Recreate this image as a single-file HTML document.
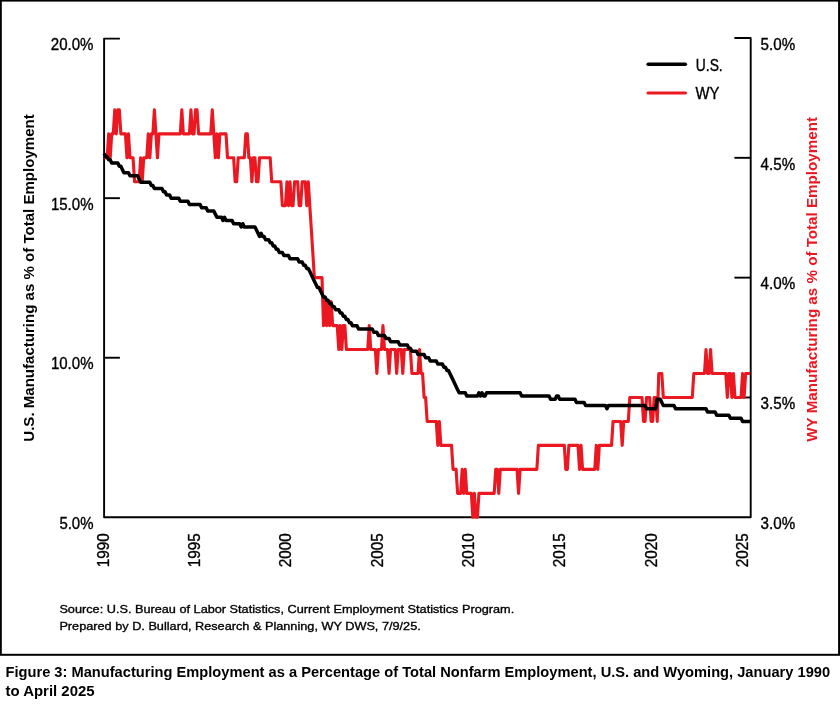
<!DOCTYPE html>
<html lang="en"><head><meta charset="utf-8"><title>Figure 3: Manufacturing Employment as a Percentage of Total Nonfarm Employment</title>
<style>
html,body{margin:0;padding:0;background:#fff;}
body{width:840px;height:706px;overflow:hidden;font-family:"Liberation Sans",sans-serif;}
svg text{font-family:"Liberation Sans",sans-serif;}
</style></head>
<body>
<svg width="840" height="706" viewBox="0 0 840 706" font-family="Liberation Sans, sans-serif" style="display:block;will-change:transform;transform:translateZ(0)">
<rect x="0.8" y="0.6" width="838.3" height="654.2" fill="#fff" stroke="#000000" stroke-width="2"/>
<path d="M119.89999999999999 38.6 L104.1 38.6 L104.1 517.3 L750.7 517.3 L750.7 38.0 L734.4000000000001 38.0" fill="none" stroke="#000000" stroke-width="1.9" stroke-linejoin="round"/>
<line x1="104.1" y1="198.17" x2="119.89999999999999" y2="198.17" stroke="#000000" stroke-width="1.9"/>
<line x1="104.1" y1="357.73" x2="119.89999999999999" y2="357.73" stroke="#000000" stroke-width="1.9"/>
<line x1="750.7" y1="157.82" x2="734.4000000000001" y2="157.82" stroke="#000000" stroke-width="1.9"/>
<line x1="750.7" y1="277.65" x2="734.4000000000001" y2="277.65" stroke="#000000" stroke-width="1.9"/>
<line x1="750.7" y1="397.47" x2="734.4000000000001" y2="397.47" stroke="#000000" stroke-width="1.9"/>
<path d="M104.10 157.82 L107.15 157.82 L108.67 133.86 L110.20 157.82 L111.72 133.86 L113.24 133.86 L114.77 109.89 L116.29 133.86 L117.81 109.89 L119.34 109.89 L120.86 133.86 L125.43 133.86 L126.96 157.82 L128.48 133.86 L130.00 157.82 L133.05 157.82 L134.58 181.79 L139.15 181.79 L140.67 157.82 L142.19 181.79 L143.72 157.82 L146.77 157.82 L148.29 133.86 L149.81 157.82 L151.34 133.86 L152.86 133.86 L154.39 109.89 L155.91 133.86 L157.43 157.82 L158.96 133.86 L180.29 133.86 L181.81 109.89 L183.34 133.86 L189.43 133.86 L190.96 109.89 L192.48 133.86 L194.00 133.86 L195.53 109.89 L197.05 109.89 L198.58 133.86 L210.77 133.86 L212.29 109.89 L213.81 133.86 L215.34 157.82 L216.86 133.86 L218.38 157.82 L219.91 133.86 L226.00 133.86 L227.53 157.82 L233.62 157.82 L235.15 181.79 L236.67 181.79 L238.19 157.82 L244.29 157.82 L245.81 133.86 L247.34 133.86 L248.86 157.82 L250.38 157.82 L251.91 181.79 L253.43 157.82 L254.96 157.82 L256.48 181.79 L258.00 181.79 L259.53 157.82 L270.19 157.82 L271.72 181.79 L280.86 181.79 L282.38 205.76 L285.43 205.76 L286.96 181.79 L288.48 205.76 L290.00 181.79 L291.53 205.76 L293.05 205.76 L294.57 181.79 L297.62 181.79 L299.15 205.76 L300.67 205.76 L302.19 181.79 L305.24 181.79 L306.77 205.76 L308.29 181.79 L309.81 205.76 L311.34 229.72 L312.86 253.69 L314.38 277.65 L322.00 277.65 L323.53 325.58 L325.05 301.62 L326.57 325.58 L328.10 301.62 L329.62 325.58 L331.15 301.62 L332.67 325.58 L337.24 325.58 L338.77 349.54 L340.29 325.58 L341.81 349.54 L343.34 325.58 L344.86 325.58 L346.38 349.54 L367.72 349.54 L369.24 325.58 L370.76 349.54 L375.34 349.54 L376.86 373.51 L378.38 349.54 L381.43 349.54 L382.96 325.58 L384.48 349.54 L387.53 349.54 L389.05 373.51 L390.57 349.54 L395.15 349.54 L396.67 373.51 L398.19 349.54 L401.24 349.54 L402.76 373.51 L404.29 349.54 L410.38 349.54 L411.91 373.51 L418.00 373.51 L419.53 349.54 L421.05 373.51 L422.57 373.51 L424.10 397.47 L425.62 397.47 L427.15 421.44 L436.29 421.44 L437.81 445.41 L439.34 421.44 L440.86 445.41 L451.53 445.41 L453.05 469.37 L456.10 469.37 L457.62 493.33 L460.67 493.33 L462.19 469.37 L463.72 493.33 L465.24 469.37 L466.76 493.33 L471.34 493.33 L472.86 517.30 L474.38 493.33 L475.91 517.30 L477.43 517.30 L478.95 493.33 L494.19 493.33 L495.72 469.37 L497.24 469.37 L498.76 493.33 L500.29 469.37 L517.05 469.37 L518.57 493.33 L520.10 469.37 L536.86 469.37 L538.38 445.41 L564.29 445.41 L565.81 469.37 L567.34 469.37 L568.86 445.41 L578.00 445.41 L579.53 469.37 L581.05 445.41 L582.57 469.37 L594.76 469.37 L596.29 445.41 L597.81 469.37 L599.34 445.41 L611.53 445.41 L613.05 421.44 L620.67 421.44 L622.19 445.41 L623.72 421.44 L628.29 421.44 L629.81 397.47 L642.00 397.47 L643.53 421.44 L645.05 421.44 L646.57 397.47 L649.62 397.47 L651.14 421.44 L652.67 421.44 L654.19 397.47 L655.72 397.47 L657.24 421.44 L658.76 373.51 L661.81 373.51 L663.33 397.47 L692.29 397.47 L693.81 373.51 L704.48 373.51 L706.00 349.54 L707.52 373.51 L709.05 373.51 L710.57 349.54 L712.10 373.51 L725.81 373.51 L727.33 397.47 L728.86 373.51 L730.38 373.51 L731.91 397.47 L733.43 373.51 L734.95 397.47 L741.05 397.47 L742.57 373.51 L744.10 397.47 L745.62 373.51 L750.19 373.51" fill="none" stroke="#eb1821" stroke-width="3.1" stroke-linejoin="round" stroke-linecap="butt"/>
<path d="M104.10 153.49 L105.62 156.68 L107.15 156.68 L108.67 159.87 L110.20 159.87 L111.72 163.06 L117.81 163.06 L119.34 166.25 L120.86 166.25 L122.39 169.44 L123.91 172.64 L128.48 172.64 L130.00 175.83 L137.62 175.83 L139.15 179.02 L140.67 182.21 L149.81 182.21 L151.34 185.40 L152.86 185.40 L154.39 188.59 L162.00 188.59 L163.53 191.78 L165.05 191.78 L166.58 194.98 L169.62 194.98 L171.15 198.17 L178.77 198.17 L180.29 201.36 L187.91 201.36 L189.43 204.55 L200.10 204.55 L201.62 207.74 L206.19 207.74 L207.72 210.93 L213.81 210.93 L215.34 214.12 L216.86 217.31 L221.43 217.31 L222.96 220.51 L224.48 217.31 L226.00 220.51 L232.10 220.51 L233.62 223.70 L239.72 223.70 L241.24 226.89 L242.77 223.70 L244.29 226.89 L254.96 226.89 L256.48 230.08 L258.00 233.27 L259.53 236.46 L261.05 233.27 L262.58 236.46 L264.10 236.46 L265.62 239.65 L268.67 239.65 L270.19 242.85 L271.72 242.85 L273.24 246.04 L274.77 246.04 L276.29 249.23 L277.81 249.23 L279.34 252.42 L282.38 252.42 L283.91 255.61 L288.48 255.61 L290.00 258.80 L297.62 258.80 L299.15 261.99 L302.19 261.99 L303.72 265.18 L305.24 265.18 L306.77 268.38 L308.29 268.38 L309.81 271.57 L311.34 274.76 L312.86 277.95 L314.38 281.14 L315.91 284.33 L317.43 287.52 L318.96 287.52 L320.48 290.72 L322.00 293.91 L323.53 297.10 L325.05 297.10 L326.57 300.29 L328.10 300.29 L329.62 303.48 L331.15 303.48 L332.67 306.67 L334.19 306.67 L335.72 309.86 L338.77 309.86 L340.29 313.05 L341.81 313.05 L343.34 316.25 L344.86 316.25 L346.38 319.44 L347.91 319.44 L349.43 322.63 L350.96 322.63 L352.48 325.82 L357.05 325.82 L358.57 329.01 L372.29 329.01 L373.81 332.20 L376.86 332.20 L378.38 335.39 L384.48 335.39 L386.00 338.59 L389.05 338.59 L390.57 341.78 L398.19 341.78 L399.72 344.97 L407.34 344.97 L408.86 348.16 L410.38 348.16 L411.91 351.35 L416.48 351.35 L418.00 354.54 L424.10 354.54 L425.62 357.73 L428.67 357.73 L430.19 360.92 L436.29 360.92 L437.81 364.12 L442.38 364.12 L443.91 367.31 L445.43 367.31 L446.96 370.50 L448.48 370.50 L450.00 373.69 L451.53 376.88 L453.05 380.07 L454.57 383.26 L456.10 386.46 L457.62 389.65 L459.15 392.84 L465.24 392.84 L466.76 396.03 L477.43 396.03 L478.95 392.84 L480.48 396.03 L482.00 392.84 L483.53 396.03 L485.05 396.03 L486.57 392.84 L520.10 392.84 L521.62 396.03 L549.05 396.03 L550.57 399.22 L555.14 399.22 L556.67 396.03 L558.19 396.03 L559.72 399.22 L574.95 399.22 L576.48 402.41 L584.10 402.41 L585.62 405.60 L605.43 405.60 L606.95 408.79 L608.48 405.60 L645.05 405.60 L646.57 408.79 L655.72 408.79 L657.24 399.22 L660.29 399.22 L661.81 402.41 L663.33 405.60 L674.00 405.60 L675.53 408.79 L706.00 408.79 L707.52 411.99 L715.14 411.99 L716.67 415.18 L728.86 415.18 L730.38 418.37 L741.05 418.37 L742.57 421.56 L750.19 421.56" fill="none" stroke="#000000" stroke-width="3.5" stroke-linejoin="round" stroke-linecap="butt"/>
<text x="50.8" y="50.20" font-size="16.0" font-weight="400" fill="#000000" text-anchor="start" textLength="42.7" lengthAdjust="spacingAndGlyphs" stroke="#000000" stroke-width="0.35">20.0%</text>
<text x="50.9" y="209.77" font-size="16.0" font-weight="400" fill="#000000" text-anchor="start" textLength="42.6" lengthAdjust="spacingAndGlyphs" stroke="#000000" stroke-width="0.35">15.0%</text>
<text x="50.9" y="369.33" font-size="16.0" font-weight="400" fill="#000000" text-anchor="start" textLength="42.6" lengthAdjust="spacingAndGlyphs" stroke="#000000" stroke-width="0.35">10.0%</text>
<text x="59.4" y="528.90" font-size="16.0" font-weight="400" fill="#000000" text-anchor="start" textLength="34.1" lengthAdjust="spacingAndGlyphs" stroke="#000000" stroke-width="0.35">5.0%</text>
<text x="760.6" y="49.70" font-size="16.0" font-weight="400" fill="#000000" text-anchor="start" textLength="34.6" lengthAdjust="spacingAndGlyphs" stroke="#000000" stroke-width="0.35">5.0%</text>
<text x="760.6" y="169.52" font-size="16.0" font-weight="400" fill="#000000" text-anchor="start" textLength="34.6" lengthAdjust="spacingAndGlyphs" stroke="#000000" stroke-width="0.35">4.5%</text>
<text x="760.6" y="289.35" font-size="16.0" font-weight="400" fill="#000000" text-anchor="start" textLength="34.6" lengthAdjust="spacingAndGlyphs" stroke="#000000" stroke-width="0.35">4.0%</text>
<text x="760.6" y="409.17" font-size="16.0" font-weight="400" fill="#000000" text-anchor="start" textLength="34.6" lengthAdjust="spacingAndGlyphs" stroke="#000000" stroke-width="0.35">3.5%</text>
<text x="760.6" y="529.00" font-size="16.0" font-weight="400" fill="#000000" text-anchor="start" textLength="34.6" lengthAdjust="spacingAndGlyphs" stroke="#000000" stroke-width="0.35">3.0%</text>
<text x="108.70" y="567.2" font-size="16.0" font-weight="400" fill="#000000" text-anchor="start" textLength="34.0" lengthAdjust="spacingAndGlyphs" stroke="#000000" stroke-width="0.35" transform="rotate(-90 108.70 567.2)">1990</text>
<text x="200.03" y="567.2" font-size="16.0" font-weight="400" fill="#000000" text-anchor="start" textLength="34.0" lengthAdjust="spacingAndGlyphs" stroke="#000000" stroke-width="0.35" transform="rotate(-90 200.03 567.2)">1995</text>
<text x="291.36" y="567.2" font-size="16.0" font-weight="400" fill="#000000" text-anchor="start" textLength="34.0" lengthAdjust="spacingAndGlyphs" stroke="#000000" stroke-width="0.35" transform="rotate(-90 291.36 567.2)">2000</text>
<text x="382.69" y="567.2" font-size="16.0" font-weight="400" fill="#000000" text-anchor="start" textLength="34.0" lengthAdjust="spacingAndGlyphs" stroke="#000000" stroke-width="0.35" transform="rotate(-90 382.69 567.2)">2005</text>
<text x="474.02" y="567.2" font-size="16.0" font-weight="400" fill="#000000" text-anchor="start" textLength="34.0" lengthAdjust="spacingAndGlyphs" stroke="#000000" stroke-width="0.35" transform="rotate(-90 474.02 567.2)">2010</text>
<text x="565.35" y="567.2" font-size="16.0" font-weight="400" fill="#000000" text-anchor="start" textLength="34.0" lengthAdjust="spacingAndGlyphs" stroke="#000000" stroke-width="0.35" transform="rotate(-90 565.35 567.2)">2015</text>
<text x="656.68" y="567.2" font-size="16.0" font-weight="400" fill="#000000" text-anchor="start" textLength="34.0" lengthAdjust="spacingAndGlyphs" stroke="#000000" stroke-width="0.35" transform="rotate(-90 656.68 567.2)">2020</text>
<text x="748.01" y="567.2" font-size="16.0" font-weight="400" fill="#000000" text-anchor="start" textLength="34.0" lengthAdjust="spacingAndGlyphs" stroke="#000000" stroke-width="0.35" transform="rotate(-90 748.01 567.2)">2025</text>
<text x="34.5" y="441.7" font-size="15.4" font-weight="700" fill="#000000" text-anchor="start" textLength="327.4" lengthAdjust="spacingAndGlyphs" transform="rotate(-90 34.5 441.7)">U.S. Manufacturing as % of Total Employment</text>
<text x="817.5" y="441.7" font-size="15.4" font-weight="700" fill="#eb1821" text-anchor="start" textLength="324.7" lengthAdjust="spacingAndGlyphs" transform="rotate(-90 817.5 441.7)">WY Manufacturing as % of Total Employment</text>
<line x1="648.2" y1="64.3" x2="685.3" y2="64.3" stroke="#000000" stroke-width="3.6" stroke-linecap="round"/>
<line x1="648.0" y1="92.9" x2="685.5" y2="92.9" stroke="#eb1821" stroke-width="3.0" stroke-linecap="round"/>
<text x="695.8" y="70.5" font-size="15.6" font-weight="400" fill="#000000" text-anchor="start" textLength="26.9" lengthAdjust="spacingAndGlyphs" stroke="#000000" stroke-width="0.35">U.S.</text>
<text x="695.5" y="98.7" font-size="15.6" font-weight="400" fill="#000000" text-anchor="start" textLength="23.9" lengthAdjust="spacingAndGlyphs" stroke="#000000" stroke-width="0.35">WY</text>
<text x="59.4" y="612.9" font-size="11.8" font-weight="400" fill="#000000" text-anchor="start" textLength="454.8" lengthAdjust="spacingAndGlyphs" stroke="#000000" stroke-width="0.35">Source: U.S. Bureau of Labor Statistics, Current Employment Statistics Program.</text>
<text x="59.4" y="630.3" font-size="11.8" font-weight="400" fill="#000000" text-anchor="start" textLength="361.4" lengthAdjust="spacingAndGlyphs" stroke="#000000" stroke-width="0.35">Prepared by D. Bullard, Research &amp; Planning, WY DWS, 7/9/25.</text>
<text x="5.5" y="677.1" font-size="14.2" font-weight="700" fill="#000000" text-anchor="start" textLength="824.6" lengthAdjust="spacingAndGlyphs">Figure 3: Manufacturing Employment as a Percentage of Total Nonfarm Employment, U.S. and Wyoming, January 1990</text>
<text x="5.5" y="696.2" font-size="14.2" font-weight="700" fill="#000000" text-anchor="start" textLength="89.1" lengthAdjust="spacingAndGlyphs">to April 2025</text>
</svg>
</body></html>
